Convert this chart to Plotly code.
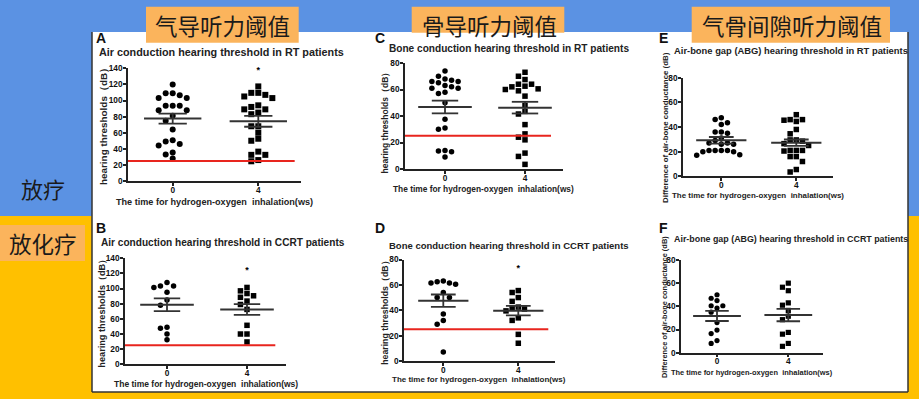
import plotly.graph_objects as go

# ---------------- data ----------------
weeks = ["0", "4"]

air_rt_w0 = [120, 109, 109, 106.5, 103, 103, 93.5, 93.5, 93.5, 88, 88, 81, 75, 64, 50.5, 49, 46, 44, 35.5, 33, 28]
air_rt_w4 = [117.5, 109.5, 109.5, 107, 105, 103, 94, 92, 89, 89, 85, 83, 68, 68, 60, 52.5, 50, 36.5, 32.5, 32.5, 26, 24.5]
air_ccrt_w0 = [108, 101.5, 103.5, 103.5, 95, 85, 78, 49, 47.5, 40, 32.5]
air_ccrt_w4 = [101.5, 97, 93.5, 90.5, 88.5, 83.5, 79, 72.5, 51.5, 40, 40, 29.5]
bone_rt_w0 = [74, 70, 68, 67, 66, 66, 65, 63, 62, 61, 61, 58, 57, 50, 37.5, 31, 30, 14, 13.5, 13, 9]
bone_rt_w4 = [73, 70, 67.5, 64, 62, 60.5, 60, 59, 62.5, 64, 55, 48, 43.5, 41.5, 33.5, 26.5, 22, 24, 12, 9.5, 3.5]
bone_ccrt_w0 = [63, 61.5, 60.5, 61.5, 62.5, 54, 50, 50, 37, 32, 29, 7]
bone_ccrt_w4 = [55.5, 54, 50, 47, 42.5, 41.5, 41, 39.5, 34, 32, 21, 14]
abg_rt_w0 = [47.5, 46, 43.5, 42, 36, 36, 35, 31, 29, 27, 27, 26, 26, 21, 21, 21, 20, 20, 21, 17.5, 17]
abg_rt_w4 = [50, 46, 46, 44.5, 45.5, 38, 34.5, 29.5, 29.5, 28.5, 26.5, 25, 21, 21, 21, 20.5, 16, 16, 12, 3.5, 5.5]
abg_ccrt_w0 = [50, 47, 45, 40.5, 40.5, 38.5, 35, 26, 19.5, 16.5, 10.5, 8]
abg_ccrt_w4 = [60, 56.5, 53.5, 43, 41, 36.5, 31.5, 28.5, 17.5, 16, 8, 5.5]

# mean and SEM as drawn (week 0, week 4)
air_rt_mean, air_rt_sem = [77.5, 74.2], [6.2, 6.8]
air_ccrt_mean, air_ccrt_sem = [78.6, 72.4], [8.4, 7.2]
bone_rt_mean, bone_rt_sem = [46.8, 46.3], [4.8, 4.4]
bone_ccrt_mean, bone_ccrt_sem = [47.5, 39.7], [4.9, 3.75]
abg_rt_mean, abg_rt_sem = [29.2, 27.3], [2.7, 2.55]
abg_ccrt_mean, abg_ccrt_sem = [31.7, 32.5], [4.35, 5.35]

normal_threshold = 25          # red reference line (dB)
star_air_rt = 137              # '*' marks above week 4
star_air_ccrt = 123.5
star_bone_ccrt = 73

titles = [
    "Air conduction hearing threshold in RT patients",
    "Air conduction hearing threshold in CCRT patients",
    "Bone conduction hearing threshold in RT patients",
    "Bone conduction hearing threshold in CCRT patients",
    "Air-bone gap (ABG) hearing threshold in RT patients",
    "Air-bone gap (ABG) hearing threshold in CCRT patients",
]
letters = ["A", "B", "C", "D", "E", "F"]
xlabel = "The time for hydrogen-oxygen \u00a0inhalation(ws)"
ylabel_thr = "hearing thresholds（dB）"
ylabel_abg = "Difference of air-bone conductance (dB)"
headers = ["气导听力阈值", "骨导听力阈值", "气骨间隙听力阈值"]
row_labels = ["放疗", "放化疗"]

# ---------------- layout geometry (pixels) ----------------
W, H = 919, 399
def px(x):
    return x / W
def py(y):
    return 1 - y / H

BLUE = "#5B92E3"
GOLD = "#FFC000"
BOX = "#FBB45C"
RED = "#E8251E"
DARK = "#333333"
FONT = "Liberation Sans, Arial, sans-serif"
CJK = "Noto Sans CJK SC, sans-serif"

panels = [
    dict(xd=(128, 301), yd=(68.3, 181), ymax=140, c0=172.7, sp=85.6, red=1.425,
         d=(air_rt_w0, air_rt_w4), m=air_rt_mean, s=air_rt_sem, star=star_air_rt, ms=6,
         tfs=10.8, tx=97, ty=51.7, lx=94, ly=38, xl=(214, 201.5, 9.1), yl=(103.5, 124.5, ylabel_thr, 9.9)),
    dict(xd=(125, 286), yd=(258.3, 364.3), ymax=140, c0=167, sp=80, red=1.354,
         d=(air_ccrt_w0, air_ccrt_w4), m=air_ccrt_mean, s=air_ccrt_sem, star=star_air_ccrt, ms=5.5,
         tfs=10.1, tx=99, ty=242.7, lx=94, ly=228, xl=(206, 384, 8.5), yl=(102, 311.7, ylabel_thr, 9.2)),
    dict(xd=(405, 563), yd=(63, 169), ymax=80, c0=445, sp=80, red=1.325,
         d=(bone_rt_w0, bone_rt_w4), m=bone_rt_mean, s=bone_rt_sem, star=None, ms=5.5,
         tfs=10.1, tx=387, ty=48.3, lx=373, ly=38.5, xl=(483.3, 189, 8.35), yl=(385, 120.5, ylabel_thr, 8.5)),
    dict(xd=(404, 555), yd=(259.5, 361), ymax=80, c0=443.3, sp=75, red=1.4,
         d=(bone_ccrt_w0, bone_ccrt_w4), m=bone_ccrt_mean, s=bone_ccrt_sem, star=star_bone_ccrt, ms=5.5,
         tfs=9.5, tx=387, ty=245, lx=373, ly=228, xl=(479, 379.5, 8.0), yl=(385, 310.8, ylabel_thr, 8.75)),
    dict(xd=(683, 833), yd=(77.7, 176.3), ymax=80, c0=721.3, sp=75, red=None,
         d=(abg_rt_w0, abg_rt_w4), m=abg_rt_mean, s=abg_rt_sem, star=None, ms=5.5,
         tfs=9.4, tx=672, ty=50, lx=657, ly=38.5, xl=(758, 195, 7.95), yl=(665, 128, ylabel_abg, 7.9)),
    dict(xd=(681, 823), yd=(260, 352.7), ymax=80, c0=717, sp=71.3, red=None,
         d=(abg_ccrt_w0, abg_ccrt_w4), m=abg_ccrt_mean, s=abg_ccrt_sem, star=None, ms=5.2,
         tfs=8.9, tx=672, ty=239, lx=657, ly=228, xl=(751.7, 372, 7.45), yl=(664.5, 307.5, ylabel_abg, 7.45)),
]

SLOT = 0.082      # horizontal swarm step (category units)
MEAN_HW = 0.335   # half width of mean line
SEM_HW = 0.165    # half width of SEM caps


def swarm(vals, ypx_per_unit, min_gap=5.6):
    order = sorted(range(len(vals)), key=lambda i: -vals[i])
    seq = [0]
    for k in range(1, 12):
        seq += [-k, k]
    placed = []
    offs = [0.0] * len(vals)
    for i in order:
        yp = vals[i] * ypx_per_unit
        for c in seq:
            if all(not (s == c and abs(p - yp) < min_gap) for s, p in placed):
                placed.append((c, yp))
                offs[i] = c * SLOT
                break
    return offs


fig = go.Figure()
shapes = []
annotations = []

# backgrounds
shapes.append(dict(type="rect", xref="paper", yref="paper", x0=-0.05, x1=1.05, y0=py(216), y1=1.05,
                   fillcolor=BLUE, line_width=0, layer="below"))
shapes.append(dict(type="rect", xref="paper", yref="paper", x0=-0.05, x1=1.05, y0=-0.05, y1=py(216),
                   fillcolor=GOLD, line_width=0, layer="below"))
shapes.append(dict(type="rect", xref="paper", yref="paper", x0=px(92), x1=px(908), y0=py(392), y1=py(32),
                   fillcolor="white", line_width=0, layer="below"))
for x0 in (92, 908):
    shapes.append(dict(type="line", xref="paper", yref="paper", x0=px(x0), x1=px(x0), y0=py(392), y1=py(32),
                       line=dict(color=DARK, width=1.5), layer="below"))
shapes.append(dict(type="line", xref="paper", yref="paper", x0=px(92), x1=px(908), y0=py(392), y1=py(392),
                   line=dict(color=DARK, width=1.5), layer="below"))

# header boxes
hdr_boxes = [(146, 298.7, 6.7, 42.7, 222.5), (411.7, 564.3, 6.7, 32.7, 489), (691.7, 890, 6.7, 42.7, 791.7)]
for (x0, x1, y0, y1, cx), txt in zip(hdr_boxes, headers):
    shapes.append(dict(type="rect", xref="paper", yref="paper", x0=px(x0), x1=px(x1), y0=py(y1), y1=py(y0),
                       fillcolor=BOX, line_width=0, layer="below"))
    annotations.append(dict(text=txt, xref="paper", yref="paper", x=px(cx), y=py(25), xanchor="center",
                            yanchor="middle", showarrow=False, font=dict(family=CJK, size=22.5, color="#1a1a1a")))

# row labels
annotations.append(dict(text=row_labels[0], xref="paper", yref="paper", x=px(43), y=py(187.5), xanchor="center",
                        yanchor="middle", showarrow=False, font=dict(family=CJK, size=22, color="#1a1a1a")))
shapes.append(dict(type="rect", xref="paper", yref="paper", x0=-0.05, x1=px(85), y0=py(261), y1=py(225),
                   fillcolor=BOX, line_width=0, layer="below"))
annotations.append(dict(text=row_labels[1], xref="paper", yref="paper", x=px(42.5), y=py(243.3), xanchor="center",
                        yanchor="middle", showarrow=False, font=dict(family=CJK, size=22.5, color="#1a1a1a")))

layout_axes = {}
for k, p in enumerate(panels):
    n = k + 1
    xa = "x" if n == 1 else f"x{n}"
    ya = "y" if n == 1 else f"y{n}"
    xr = [(p["xd"][0] - p["c0"]) / p["sp"], (p["xd"][1] - p["c0"]) / p["sp"]]
    ypu = (p["yd"][1] - p["yd"][0]) / p["ymax"]

    for g in range(2):
        vals = p["d"][g]
        offs = swarm(vals, ypu)
        fig.add_trace(go.Scatter(
            x=[g + o for o in offs], y=vals, mode="markers", xaxis=xa, yaxis=ya, cliponaxis=False,
            marker=dict(symbol="circle" if g == 0 else "square", size=p["ms"], color="black",
                        line=dict(width=0)),
            showlegend=False, hoverinfo="skip"))
        m, s = p["m"][g], p["s"][g]
        fig.add_trace(go.Scatter(x=[g - MEAN_HW, g + MEAN_HW], y=[m, m], mode="lines", xaxis=xa, yaxis=ya,
                                 line=dict(color=DARK, width=2), showlegend=False, hoverinfo="skip"))
        fig.add_trace(go.Scatter(x=[g - SEM_HW, g + SEM_HW, None, g, g, None, g - SEM_HW, g + SEM_HW],
                                 y=[m + s, m + s, None, m + s, m - s, None, m - s, m - s],
                                 mode="lines", xaxis=xa, yaxis=ya,
                                 line=dict(color=DARK, width=1.8), showlegend=False, hoverinfo="skip"))
    if p["star"] is not None:
        fig.add_trace(go.Scatter(x=[1], y=[p["star"]], mode="text", text=["*"], xaxis=xa, yaxis=ya,
                                 cliponaxis=False, textposition="middle center",
                                 textfont=dict(family=FONT, size=9, color="black", weight="bold"),
                                 showlegend=False, hoverinfo="skip"))
    if p["red"] is not None:
        shapes.append(dict(type="line", xref=xa, yref=ya, x0=xr[0], x1=p["red"],
                           y0=normal_threshold, y1=normal_threshold, line=dict(color=RED, width=2)))

    axis_common = dict(showline=True, linecolor="#222", linewidth=1.5, ticks="outside", ticklen=3,
                       tickwidth=1.5, tickcolor="#222", showgrid=False, zeroline=False,
                       tickfont=dict(family=FONT, size=8.3, color="#111", weight="bold"))
    layout_axes["xaxis" if n == 1 else f"xaxis{n}"] = dict(
        domain=[px(p["xd"][0]), px(p["xd"][1])], range=xr, anchor=ya,
        tickvals=[0, 1], ticktext=weeks, ticklabelstandoff=-3, **axis_common)
    layout_axes["yaxis" if n == 1 else f"yaxis{n}"] = dict(
        domain=[py(p["yd"][1]), py(p["yd"][0])], range=[0, p["ymax"]], anchor=xa,
        tick0=0, dtick=20, ticklabelstandoff=-1, **axis_common)

    annotations.append(dict(text=letters[k], xref="paper", yref="paper", x=px(p["lx"]), y=py(p["ly"]),
                            xanchor="left", yanchor="middle", showarrow=False,
                            font=dict(family=FONT, size=14, color="#111", weight="bold")))
    annotations.append(dict(text=titles[k], xref="paper", yref="paper", x=px(p["tx"]), y=py(p["ty"]),
                            xanchor="left", yanchor="middle", showarrow=False,
                            font=dict(family=FONT, size=p["tfs"], color="#222", weight="bold")))
    xlx, xly, xls = p["xl"]
    annotations.append(dict(text=xlabel, xref="paper", yref="paper", x=px(xlx), y=py(xly),
                            xanchor="center", yanchor="middle", showarrow=False,
                            font=dict(family=FONT, size=xls, color="#222", weight="bold")))
    ylx, yly, ylt, yls = p["yl"]
    annotations.append(dict(text=ylt, xref="paper", yref="paper", x=px(ylx), y=py(yly), textangle=-90,
                            xanchor="center", yanchor="middle", showarrow=False,
                            font=dict(family=FONT, size=yls, color="#222", weight="bold")))

fig.update_layout(
    width=W, height=H, margin=dict(l=0, r=0, t=0, b=0, pad=0, autoexpand=False),
    paper_bgcolor=BLUE, plot_bgcolor="rgba(0,0,0,0)",
    shapes=shapes, annotations=annotations, showlegend=False,
    **layout_axes)

fig.write_html("out.html", config={"displayModeBar": False},
               post_script="document.documentElement.style.margin='0';document.body.style.margin='0';document.body.style.overflow='hidden';")
